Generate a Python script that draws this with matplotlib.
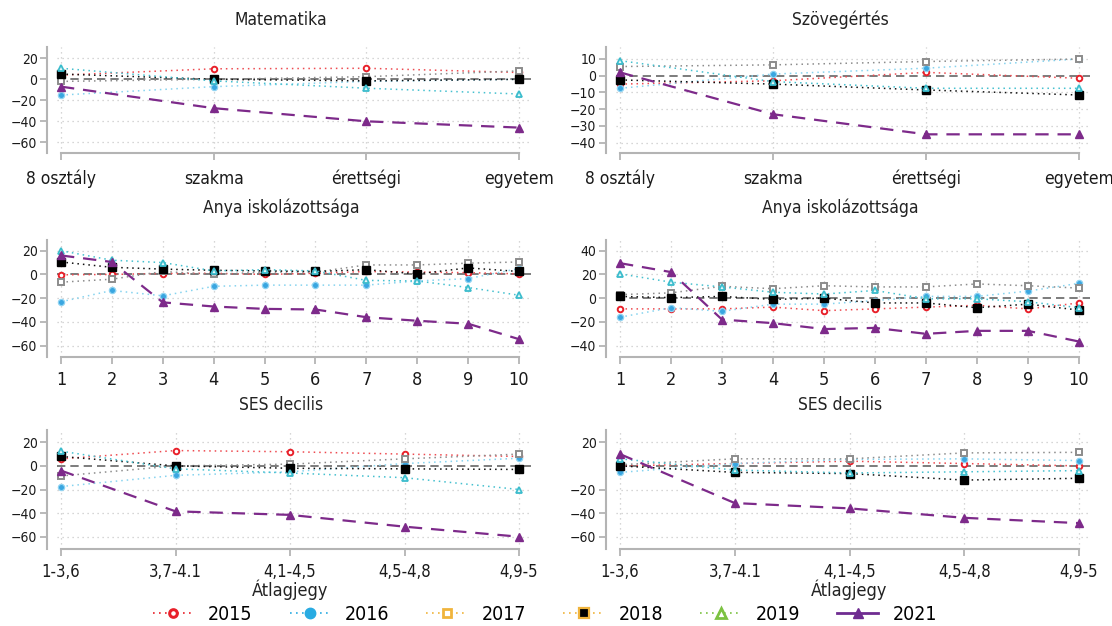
import matplotlib
matplotlib.use("Agg")
import matplotlib.pyplot as plt
from matplotlib.lines import Line2D

plt.rcParams['font.family'] = ['DejaVu Sans']
plt.rcParams['font.stretch'] = 'condensed'

# ---------------- data ----------------
years = ["2015", "2016", "2017", "2018", "2019", "2021"]

cat_edu = ["8 osztály", "szakma", "érettségi", "egyetem"]
cat_dec = ["1", "2", "3", "4", "5", "6", "7", "8", "9", "10"]
cat_gpa = ["1-3,6", "3,7-4.1", "4,1-4,5", "4,5-4,8", "4,9-5"]

# Matematika (left top)
mat_2015 = [4, 10, 10.5, 6.5]
mat_2016 = [-15, -7, -2, 0]
mat_2017 = [-2, 0, 2.5, 8]
mat_2018 = [5, 0, -1.5, 0]
mat_2019 = [10.5, -1.5, -8.5, -14]
mat_2021 = [-7, -27.5, -40, -46]

# Szövegértés (right top)
szo_2015 = [-5, -3, 2, -1.5]
szo_2016 = [-7.5, 1, 4.5, 10]
szo_2017 = [5.5, 6.5, 8.5, 10]
szo_2018 = [-2.5, -5, -8.5, -11.5]
szo_2019 = [9, -3.5, -7.5, -7.5]
szo_2021 = [2, -23, -35, -35]

# Anya iskolázottsága, Matematika (left middle)
am_2015 = [-0.3, 0, 0.8, 1, 0, 1, 2.5, 2, 1.5, 0.5]
am_2016 = [-23, -13.5, -18, -10, -9, -9, -9, -5.5, -3.5, 5]
am_2017 = [-6.5, -4, 2.5, 0, 2, 2, 8, 8, 9.5, 10.5]
am_2018 = [10.5, 6, 4.5, 3.5, 3, 2.5, 4, 0.5, 5.5, 2.5]
am_2019 = [20, 12, 10, 3, 4, 3, -5, -5.5, -11, -17.5]
am_2021 = [16, 10.5, -23.5, -27, -29, -29.5, -36, -39, -41.5, -54.5]

# Anya iskolázottsága, Szövegértés (right middle)
asz_2015 = [-9, -9, -9, -7.5, -10.5, -9, -7.5, -6, -9, -4]
asz_2016 = [-16, -8, -11, -5, -5, -2, 1.5, 1.5, 6, 12.5]
asz_2017 = [3, 4.5, 10, 8, 10.5, 9.5, 9.5, 12, 10.5, 8.5]
asz_2018 = [1.5, 0.5, 1.5, -1, 0, -4, -4, -8, -5, -10]
asz_2019 = [20.5, 13.5, 9.5, 5, 3.5, 6.5, -0.5, -0.5, -3, -8]
asz_2021 = [29.5, 22, -18, -21, -26, -25, -30, -27.5, -27.5, -36.5]

# SES decilis, Matematika (left bottom)
sm_2015 = [6, 13, 12, 10, 8]
sm_2016 = [-17.5, -8, -5, 2, 6.5]
sm_2017 = [-8.5, 0, 1.5, 6, 10]
sm_2018 = [8, 0, -2, -2.5, -3]
sm_2019 = [12.5, -2.5, -6, -10, -20]
sm_2021 = [-4, -38.5, -41.5, -51.5, -60]

# SES decilis, Szövegértés (right bottom)
ss_2015 = [0, 2, 4, 2, 0]
ss_2016 = [-5.5, 2, 5.5, 6, 4.5]
ss_2017 = [1, 6, 6, 11, 11.5]
ss_2018 = [0, -5.5, -6.5, -12, -10.5]
ss_2019 = [6, -3.5, -6, -5, -4]
ss_2021 = [10, -31.5, -36, -44, -48.5]

titles = ["Matematika", "Szövegértés", "Anya iskolázottsága",
          "Anya iskolázottsága", "SES decilis", "SES decilis"]
xlabel_bottom = "Átlagjegy"

yticks_list = [[20, 0, -20, -40, -60],
               [10, 0, -10, -20, -30, -40],
               [20, 0, -20, -40, -60],
               [40, 20, 0, -20, -40],
               [20, 0, -20, -40, -60],
               [20, -20, -40, -60]]

panels = [
    (cat_edu, [mat_2015, mat_2016, mat_2017, mat_2018, mat_2019, mat_2021]),
    (cat_edu, [szo_2015, szo_2016, szo_2017, szo_2018, szo_2019, szo_2021]),
    (cat_dec, [am_2015, am_2016, am_2017, am_2018, am_2019, am_2021]),
    (cat_dec, [asz_2015, asz_2016, asz_2017, asz_2018, asz_2019, asz_2021]),
    (cat_gpa, [sm_2015, sm_2016, sm_2017, sm_2018, sm_2019, sm_2021]),
    (cat_gpa, [ss_2015, ss_2016, ss_2017, ss_2018, ss_2019, ss_2021]),
]

# ---------------- styles ----------------
DOT = (0, (1, 2.6))
plot_styles = [
    dict(color='#ee4a50', ls=DOT, lw=1.1, marker='o', ms=4, mfc='white', mec='#e8202a', mew=1.4),
    dict(color='#86d3ef', ls=DOT, lw=1.1, marker='o', ms=4.5, mfc='#3aa6e0', mec='#8fd3f2', mew=0.9),
    dict(color='#8c8c8c', ls=DOT, lw=1.1, marker='s', ms=4, mfc='white', mec='#8c8c8c', mew=1.4),
    dict(color='#111111', ls=DOT, lw=1.1, marker='s', ms=5.2, mfc='black', mec='black', mew=1.0),
    dict(color='#45c0cf', ls=DOT, lw=1.1, marker='^', ms=5, mfc='#e6f7f9', mec='#3bbccc', mew=1.3),
    dict(color='#7d2a8a', ls=(0, (6, 4)), lw=1.6, marker='^', ms=5.5, mfc='#7d2a8a', mec='#7d2a8a', mew=1.0),
]
legend_styles = [
    dict(color='#e8202a', ls=DOT, lw=1.2, marker='o', ms=5.5, mfc='white', mec='#e8202a', mew=2.2),
    dict(color='#29abe2', ls=DOT, lw=1.2, marker='o', ms=7.5, mfc='#29abe2', mec='#29abe2'),
    dict(color='#f0b43c', ls=DOT, lw=1.2, marker='s', ms=6, mfc='white', mec='#f0b43c', mew=2.0),
    dict(color='#f0b43c', ls=DOT, lw=1.2, marker='s', ms=6.5, mfc='black', mec='#f0b43c', mew=1.6),
    dict(color='#7cc242', ls=DOT, lw=1.2, marker='^', ms=6.5, mfc='white', mec='#7cc242', mew=2.0),
    dict(color='#6f2c91', ls='-', lw=2.0, marker='^', ms=7.5, mfc='#6f2c91', mec='#6f2c91'),
]

W, H = 1112, 626
fig = plt.figure(figsize=(W / 100, H / 100), dpi=100)

rows_px = [(47, 153), (240, 357), (430, 549)]
cols_px = [(57, 531, 61, 519, 281), (616, 1090, 620, 1079, 840)]
y_anchor = [(20, 58.3, -60, 142.3), (10, 59, -40, 142.7),
            (20, 250.7, -60, 345.7), (40, 250.7, -40, 345.7),
            (20, 442.3, -60, 536.7), (20, 442.3, -60, 536.7)]
title_y = [20, 208, 405]
xt_size = [12.5, 13, 12]
xt_base = [182, 383, 575]   # baseline of x tick labels (px)

SPINE = '#b4b4b4'
GRID = '#c9c9c9'

for i, (cats, series) in enumerate(panels):
    r, c = divmod(i, 2)
    top, bot = rows_px[r]
    left, right, t0, t1, tcx = cols_px[c]
    ax = fig.add_axes([left / W, 1 - bot / H, (right - left) / W, (bot - top) / H])
    n = len(cats)
    x = list(range(n))
    ppu = (t1 - t0) / (n - 1)
    ax.set_xlim(-(t0 - left) / ppu, (n - 1) + (right - t1) / ppu)
    v1, p1, v2, p2 = y_anchor[i]
    s = (v1 - v2) / (p2 - p1)
    ax.set_ylim(v2 - (bot - p2) * s, v1 + (p1 - top) * s)

    yt = yticks_list[i]
    for yv in yt:
        if yv != 0:
            ax.axhline(yv, color=GRID, ls=(0, (1, 3)), lw=0.9, zorder=0)
    for xv in x:
        ax.axvline(xv, color=GRID, ls=(0, (1, 3)), lw=0.9, zorder=0)
    ax.axhline(0, color='#666666', ls=(0, (5, 3)), lw=1.2, zorder=1)

    for k, vals in enumerate(series):
        ax.plot(x, vals, zorder=2 + k, clip_on=False, **plot_styles[k])

    ax.set_xticks(x)
    ax.set_xticklabels(cats, fontsize=xt_size[r])
    for lab in ax.get_xticklabels():
        lab.set_verticalalignment('baseline')
    ax.set_yticks(yt)
    ax.set_yticklabels([str(v).replace('-', '\u2212') for v in yt], fontsize=13)
    for sp in ['top', 'right']:
        ax.spines[sp].set_visible(False)
    ax.spines['left'].set_position(('outward', 7))
    ax.spines['left'].set_color(SPINE)
    ax.spines['left'].set_linewidth(1.5)
    ax.spines['bottom'].set_color(SPINE)
    ax.spines['bottom'].set_linewidth(1.5)
    ax.spines['bottom'].set_bounds(0, n - 1)
    ax.tick_params(axis='both', colors=SPINE, length=5, width=1.3, labelcolor='#1a1a1a')
    ax.tick_params(axis='y', pad=2)
    ax.tick_params(axis='x', pad=(xt_base[r] - bot - 5) * 0.72)
    ax.patch.set_alpha(0)

    fig.text(tcx / W, 1 - title_y[r] / H, titles[i], ha='center', va='center',
             fontsize=12.5, color='#222222')
    if r == 2:
        fig.text((t0 + t1) / 2 / W, 1 - 590 / H, xlabel_bottom, ha='center',
                 va='center', fontsize=13, color='#222222')

handles = [Line2D([], [], **st) for st in legend_styles]
fig.legend(handles, years, loc='center', bbox_to_anchor=(0.49, 1 - 614 / H), ncol=6,
           frameon=False, fontsize=14, handlelength=2.1, handletextpad=0.75,
           columnspacing=1.9)

fig.savefig("out.png", dpi=100)
